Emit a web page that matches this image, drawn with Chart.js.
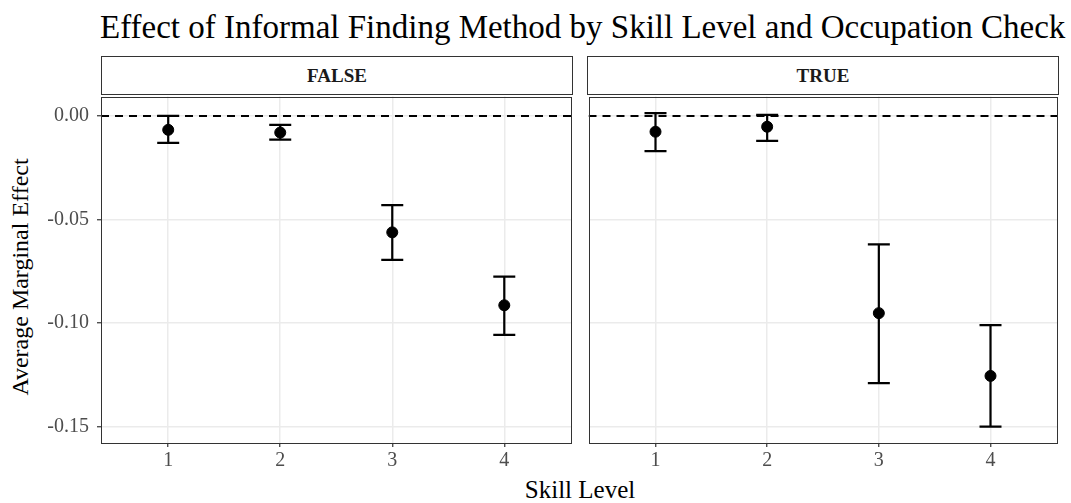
<!DOCTYPE html>
<html>
<head>
<meta charset="utf-8">
<script src="https://cdn.jsdelivr.net/npm/chart.js@4.4.1/dist/chart.umd.min.js"></script>
<style>
  body { margin: 0; background: #fff; }
  #wrap { position: relative; width: 1071px; height: 503px; font-family: "Liberation Serif", "DejaVu Serif", serif; }
  .title { position: absolute; left: 100px; top: 8px; font-size: 33px; line-height: 38px; color: #000; white-space: nowrap; }
  .ylab { position: absolute; left: 20px; top: 277px; font-size: 24px; color: #000; white-space: nowrap;
          transform: translate(-50%, -50%) rotate(-90deg); }
  .xlab { position: absolute; left: 580px; top: 490px; font-size: 25px; color: #000; white-space: nowrap; transform: translate(-50%, -50%); }
  .strip { position: absolute; top: 56px; height: 37px; border: 1px solid #333; box-sizing: content-box;
           font-weight: bold; font-size: 19px; color: #1a1a1a; text-align: center; line-height: 37px; }
  canvas { position: absolute; }
</style>
</head>
<body>
<div id="wrap">
  <div class="title">Effect of Informal Finding Method by Skill Level and Occupation Check</div>
  <div class="ylab">Average Marginal Effect</div>
  <div class="xlab">Skill Level</div>
  <div class="strip" style="left:101px; width:470px;">FALSE</div>
  <div class="strip" style="left:587px; width:470px;">TRUE</div>
  <canvas id="left" width="538" height="385" style="left:40px; top:90px;"></canvas>
  <canvas id="right" width="482" height="385" style="left:582px; top:90px;"></canvas>
</div>
<script>
const skillLevels = [1, 2, 3, 4];
const yTicks = [0, -0.05, -0.10, -0.15];

// Occupation check = FALSE
const falseEst  = [-0.0067, -0.0080, -0.0562, -0.0914];
const falseLow  = [-0.0130, -0.0114, -0.0695, -0.1057];
const falseHigh = [ 0.0000, -0.0043, -0.0430, -0.0776];

// Occupation check = TRUE
const trueEst  = [-0.0076, -0.0052, -0.0952, -0.1255];
const trueLow  = [-0.0170, -0.0120, -0.1290, -0.1500];
const trueHigh = [ 0.0014,  0.0005, -0.0620, -0.1010];

const refLine = 0;
const xMin = 0.4, xMax = 4.6;
const yMin = -0.1579, yMax = 0.0094;

const tickFont = { family: "Liberation Serif", size: 20 };

function errorBarPlugin(low, high) {
  return {
    id: "errorBars",
    beforeDatasetsDraw(chart) {
      const { ctx, scales: { x, y } } = chart;
      ctx.save();
      ctx.strokeStyle = "#000";
      ctx.lineWidth = 2.2;
      skillLevels.forEach((lvl, i) => {
        const px = x.getPixelForValue(lvl);
        const y1 = y.getPixelForValue(low[i]);
        const y2 = y.getPixelForValue(high[i]);
        const half = 11;
        ctx.beginPath();
        ctx.moveTo(px, y1); ctx.lineTo(px, y2);
        ctx.moveTo(px - half, y1); ctx.lineTo(px + half, y1);
        ctx.moveTo(px - half, y2); ctx.lineTo(px + half, y2);
        ctx.stroke();
      });
      ctx.restore();
    },
    afterDraw(chart) {
      // panel border all round, like theme_bw
      const { ctx, chartArea: a } = chart;
      ctx.save();
      ctx.strokeStyle = "#333";
      ctx.lineWidth = 1;
      ctx.strokeRect(Math.round(a.left) + 0.5, Math.round(a.top) + 0.5,
                     Math.round(a.right - a.left) - 1, Math.round(a.bottom - a.top) - 1);
      ctx.restore();
    }
  };
}

function makePanel(id, est, low, high, showY) {
  return new Chart(document.getElementById(id), {
    type: "scatter",
    data: {
      datasets: [
        {
          data: [{ x: xMin, y: refLine }, { x: xMax, y: refLine }],
          showLine: true,
          borderColor: "#000",
          borderWidth: 2,
          borderDash: [8, 6],
          pointRadius: 0
        },
        {
          data: skillLevels.map((lvl, i) => ({ x: lvl, y: est[i] })),
          backgroundColor: "#000",
          borderColor: "#000",
          pointRadius: 5.5,
          pointHoverRadius: 5.5
        }
      ]
    },
    options: {
      responsive: false,
      animation: false,
      layout: { padding: { top: 4, left: showY ? 0 : 5, right: 5, bottom: 0 } },
      plugins: { legend: { display: false }, tooltip: { enabled: false } },
      scales: {
        x: {
          type: "linear",
          min: xMin, max: xMax,
          afterBuildTicks: s => { s.ticks = skillLevels.map(v => ({ value: v })); },
          afterFit: s => { s.height = 32; s.paddingLeft = 0; s.paddingRight = 0; },
          border: { display: false },
          grid: { color: "#ebebeb", lineWidth: 1.5, tickColor: "#333", tickLength: 4, tickWidth: 1.2 },
          ticks: { color: "#4d4d4d", font: tickFont, padding: 2, callback: v => String(v) }
        },
        y: {
          min: yMin, max: yMax,
          afterBuildTicks: s => { s.ticks = yTicks.map(v => ({ value: v })); },
          afterFit: s => { s.width = showY ? 61 : 0; s.paddingTop = 0; s.paddingBottom = 0; },
          border: { display: false },
          grid: { color: "#ebebeb", lineWidth: 1.5, tickColor: "#333", tickLength: 4, tickWidth: 1.2, drawTicks: showY },
          ticks: { display: showY, color: "#4d4d4d", font: tickFont, padding: 8, callback: v => v.toFixed(2) }
        }
      }
    },
    plugins: [errorBarPlugin(low, high)]
  });
}

makePanel("left", falseEst, falseLow, falseHigh, true);
makePanel("right", trueEst, trueLow, trueHigh, false);
</script>
</body>
</html>
